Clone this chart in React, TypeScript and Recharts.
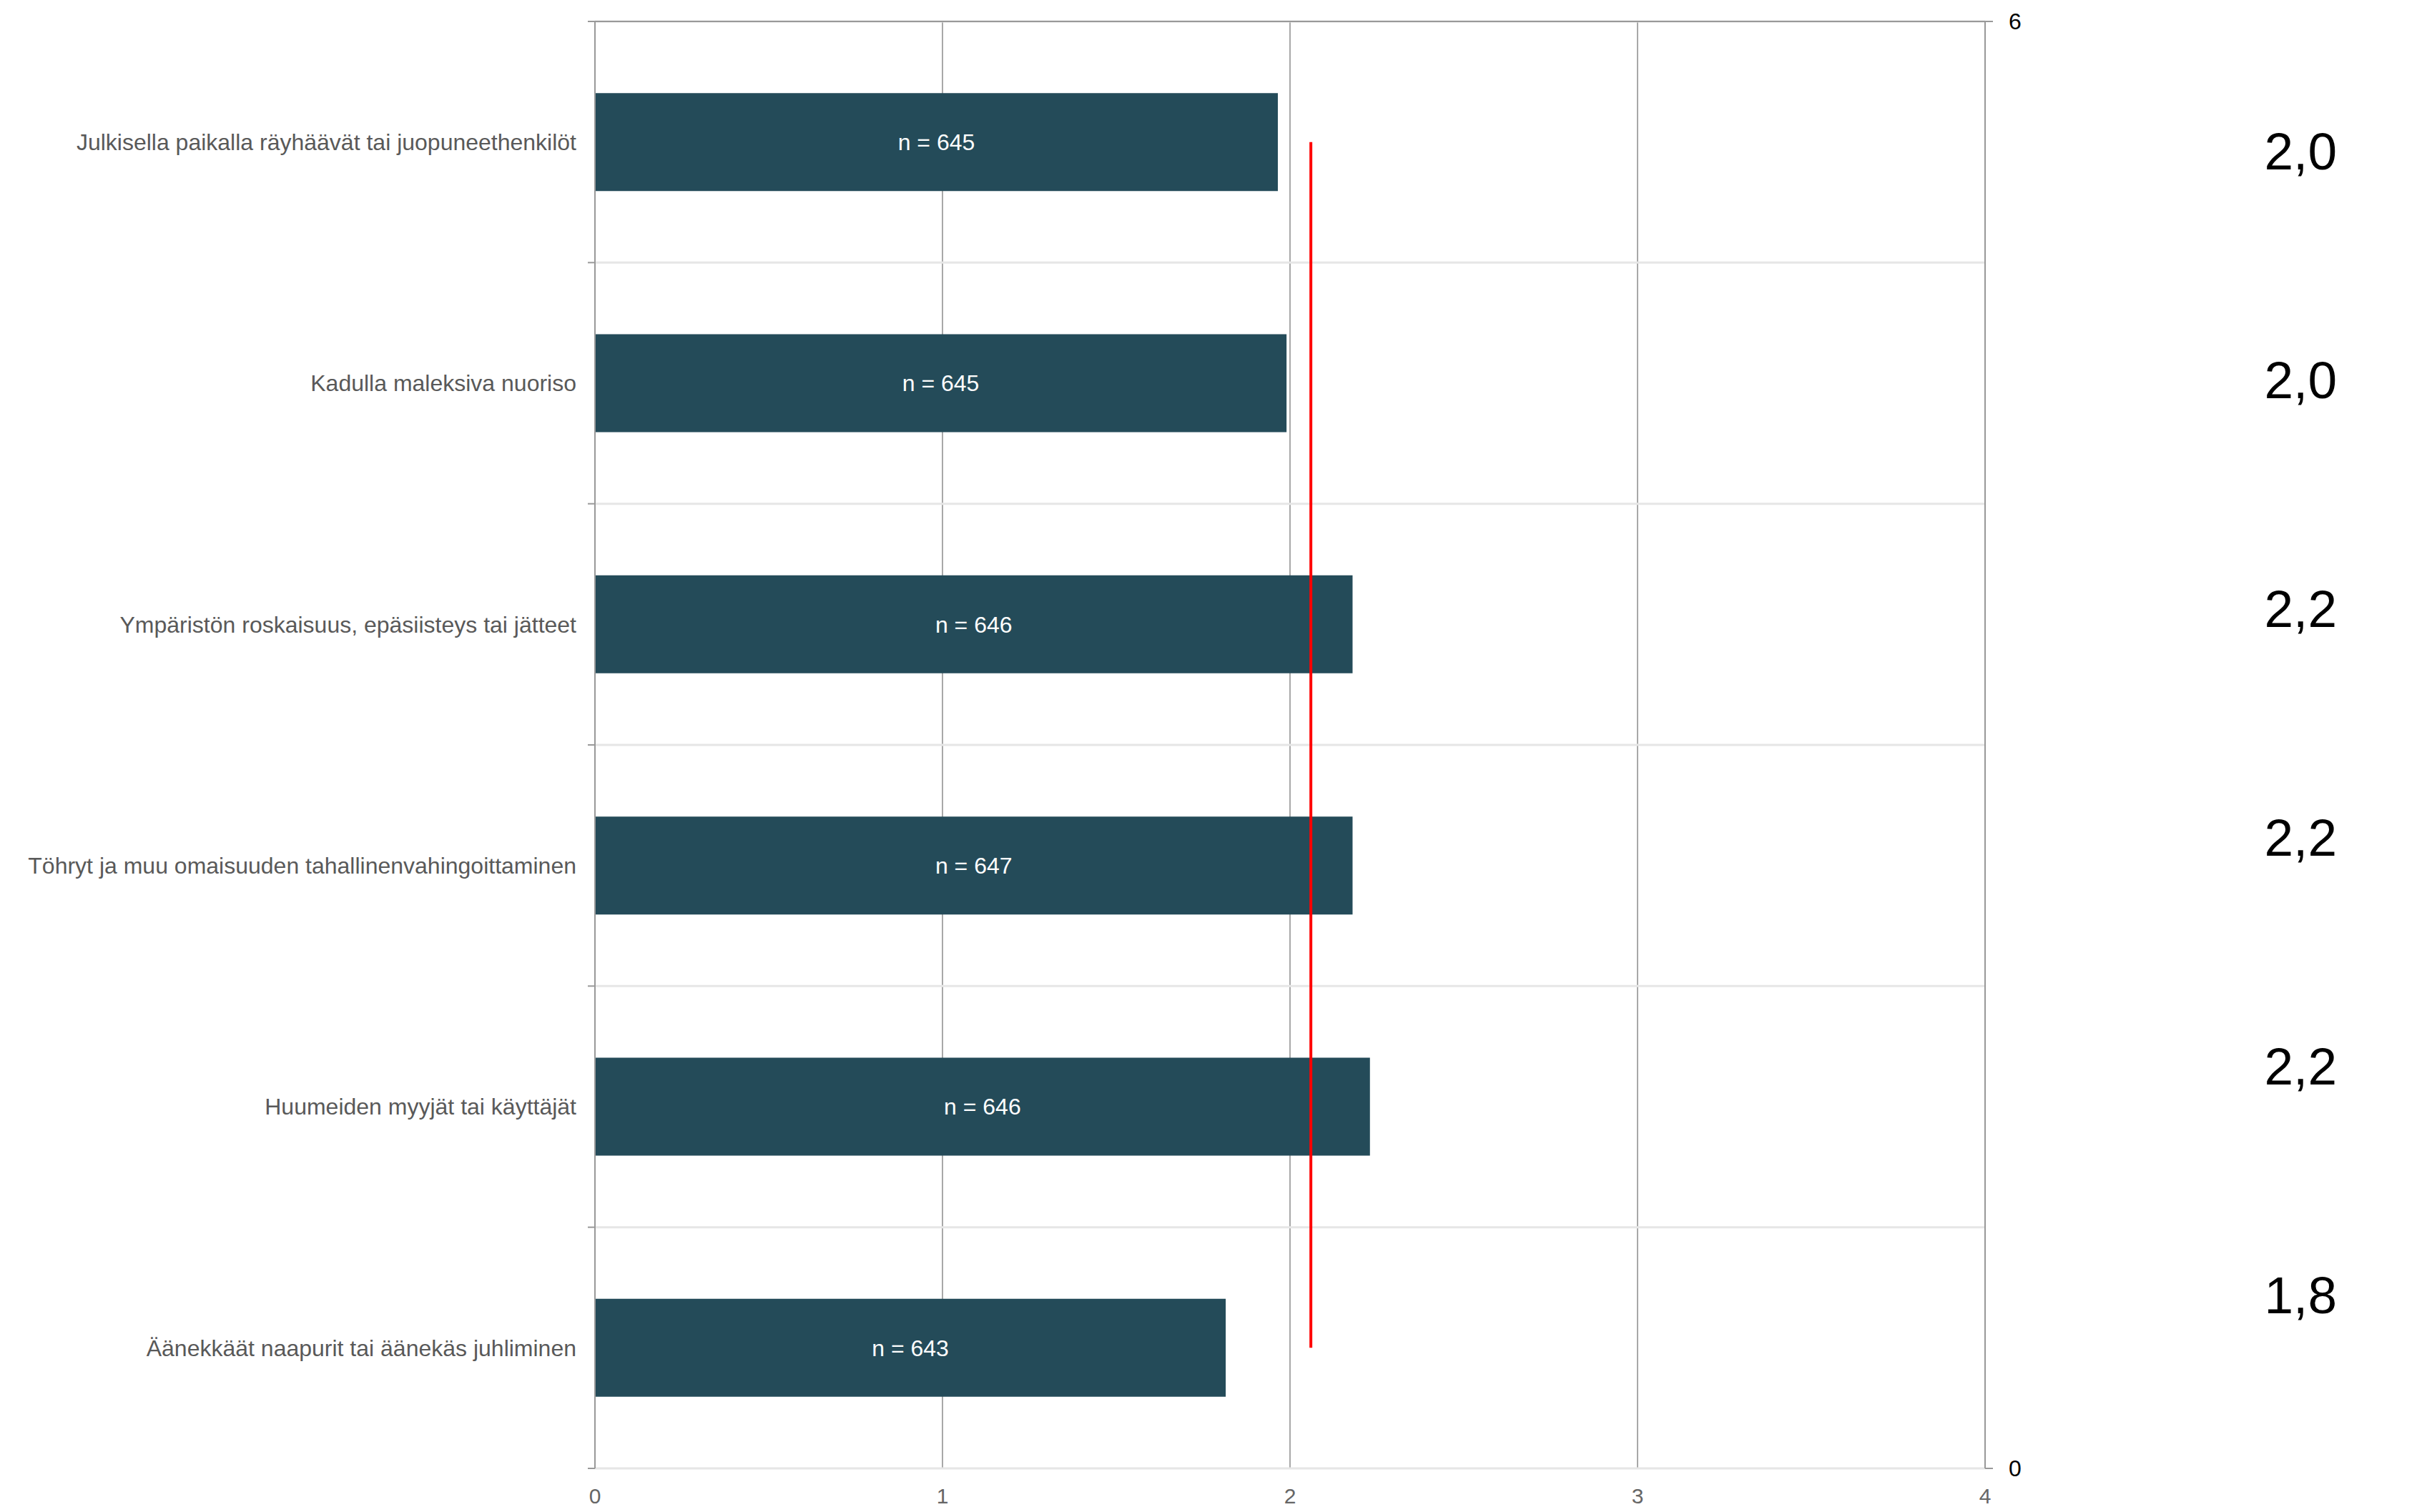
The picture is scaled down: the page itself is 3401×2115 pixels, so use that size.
import React from 'react';
import { ComposedChart, Bar, Line, XAxis, YAxis, CartesianGrid, LabelList } from 'recharts';

const categories = [
  'Julkisella paikalla räyhäävät tai juopuneethenkilöt',
  'Kadulla maleksiva nuoriso',
  'Ympäristön roskaisuus, epäsiisteys tai jätteet',
  'Töhryt ja muu omaisuuden tahallinenvahingoittaminen',
  'Huumeiden myyjät tai käyttäjät',
  'Äänekkäät naapurit tai äänekäs juhliminen',
];
const means = [1.965, 1.99, 2.18, 2.18, 2.23, 1.815];
const counts = [645, 645, 646, 647, 646, 643];
const meanLabels = ['2,0', '2,0', '2,2', '2,2', '2,2', '1,8'];
const overallMean = 2.06;
const xTicks = [0, 1, 2, 3, 4];
const rightAxisLabels = ['6', '0'];

const data = categories.map((name, i) => ({
  name,
  value: means[i],
  n: `n = ${counts[i]}`,
  avg: overallMean,
}));

const FONT = '"Liberation Sans", Arial, sans-serif';
const AXIS_GRAY = '#999';

const EmptyTick = () => <g />;

const halfBand = (props: any) => {
  const { payload, height, visibleTicksCount } = props;
  if (payload && typeof payload.offset === 'number' && payload.offset > 0) return payload.offset;
  return height / visibleTicksCount / 2;
};

const CAT_MARGIN = 26;
const CatTick = (props: any) => {
  const { x, y, payload, index, visibleTicksCount } = props;
  const h = halfBand(props);
  const axisX = x + CAT_MARGIN;
  const last = index === visibleTicksCount - 1;
  return (
    <g>
      <line x1={axisX - 10} x2={axisX} y1={y - h} y2={y - h} stroke={AXIS_GRAY} strokeWidth={2} />
      {last && <line x1={axisX - 10} x2={axisX} y1={y + h} y2={y + h} stroke={AXIS_GRAY} strokeWidth={2} />}
      <text x={x} y={y} dy="0.355em" textAnchor="end" fontSize={32} fill="#595959" fontFamily={FONT}>
        {payload.value}
      </text>
    </g>
  );
};

const RightTick = (props: any) => {
  const { x, y, index, visibleTicksCount } = props;
  const h = halfBand(props);
  const first = index === 0;
  const last = index === visibleTicksCount - 1;
  const items: any[] = [];
  if (first) {
    items.push(<line key="l0" x1={x} x2={x + 11} y1={y - h} y2={y - h} stroke={AXIS_GRAY} strokeWidth={2} />);
    items.push(
      <text key="t0" x={x + 33} y={y - h} dy="0.355em" fontSize={32} fill="#000" fontFamily={FONT}>
        {rightAxisLabels[0]}
      </text>
    );
  }
  if (last) {
    items.push(<line key="l1" x1={x} x2={x + 11} y1={y + h} y2={y + h} stroke={AXIS_GRAY} strokeWidth={2} />);
    items.push(
      <text key="t1" x={x + 33} y={y + h} dy="0.355em" fontSize={32} fill="#000" fontFamily={FONT}>
        {rightAxisLabels[1]}
      </text>
    );
  }
  return <g>{items}</g>;
};

const ValTick = (props: any) => {
  const { x, y, payload } = props;
  const i = categories.indexOf(payload.value);
  return (
    <text x={x + 392} y={y} textAnchor="end" dominantBaseline="central" fontSize={73} fill="#000" fontFamily={FONT}>
      {meanLabels[i]}
    </text>
  );
};

// band boundaries of the category axis: one line per category edge
const boundaryGenerator = (args: any) => {
  const { offset } = args || {};
  const n = categories.length;
  const res: number[] = [];
  for (let i = 0; i <= n; i++) res.push(offset.top + (offset.height * i) / n);
  return res;
};

export default function App() {
  return (
    <div style={{ width: 3401, height: 2115, background: '#fff', overflow: 'hidden' }}>
      <style>{'html,body{margin:0;padding:0;overflow:hidden;background:#fff}'}</style>
      <ComposedChart
        layout="vertical"
        width={3401}
        height={2115}
        data={data}
        margin={{ top: 21, right: 0, bottom: 8, left: 0 }}
        barCategoryGap="29.7%"
        style={{ fontFamily: FONT }}
      >
        <CartesianGrid horizontal={false} stroke="#a8a8a8" strokeWidth={2} />
        <CartesianGrid
          vertical={false}
          stroke="#e6e6e6"
          strokeWidth={3}
          horizontalCoordinatesGenerator={boundaryGenerator}
        />
        <XAxis
          type="number"
          domain={[0, 4]}
          ticks={xTicks}
          orientation="bottom"
          height={53}
          axisLine={false}
          tickLine={false}
          tickSize={0}
          tickMargin={28}
          tick={{ fill: '#666', fontSize: 30 }}
        />
        <XAxis
          xAxisId="top"
          type="number"
          domain={[0, 4]}
          ticks={xTicks}
          orientation="top"
          height={9}
          tickSize={9}
          tick={EmptyTick}
          axisLine={{ stroke: AXIS_GRAY, strokeWidth: 2 }}
          tickLine={{ stroke: AXIS_GRAY, strokeWidth: 2 }}
        />
        <YAxis
          type="category"
          dataKey="name"
          width={832}
          axisLine={{ stroke: AXIS_GRAY, strokeWidth: 2 }}
          tickLine={false}
          tickSize={0}
          tickMargin={CAT_MARGIN}
          interval={0}
          tick={CatTick}
        />
        <YAxis
          yAxisId="r"
          type="category"
          dataKey="name"
          orientation="right"
          width={100}
          tickSize={0}
          tickMargin={0}
          interval={0}
          axisLine={{ stroke: AXIS_GRAY, strokeWidth: 2 }}
          tickLine={false}
          tick={RightTick}
        />
        <YAxis
          yAxisId="vals"
          type="category"
          dataKey="name"
          orientation="right"
          width={525}
          padding={{ top: 22, bottom: 83 }}
          axisLine={false}
          tickLine={false}
          tickSize={0}
          tickMargin={0}
          interval={0}
          tick={ValTick}
        />
        <Bar dataKey="value" fill="#244b59" isAnimationActive={false}>
          <LabelList dataKey="n" position="center" fill="#fff" fontSize={32} fontFamily={FONT} />
        </Bar>
        <Line
          dataKey="avg"
          stroke="#ff0000"
          strokeWidth={4}
          dot={false}
          activeDot={false}
          isAnimationActive={false}
        />
      </ComposedChart>
    </div>
  );
}
